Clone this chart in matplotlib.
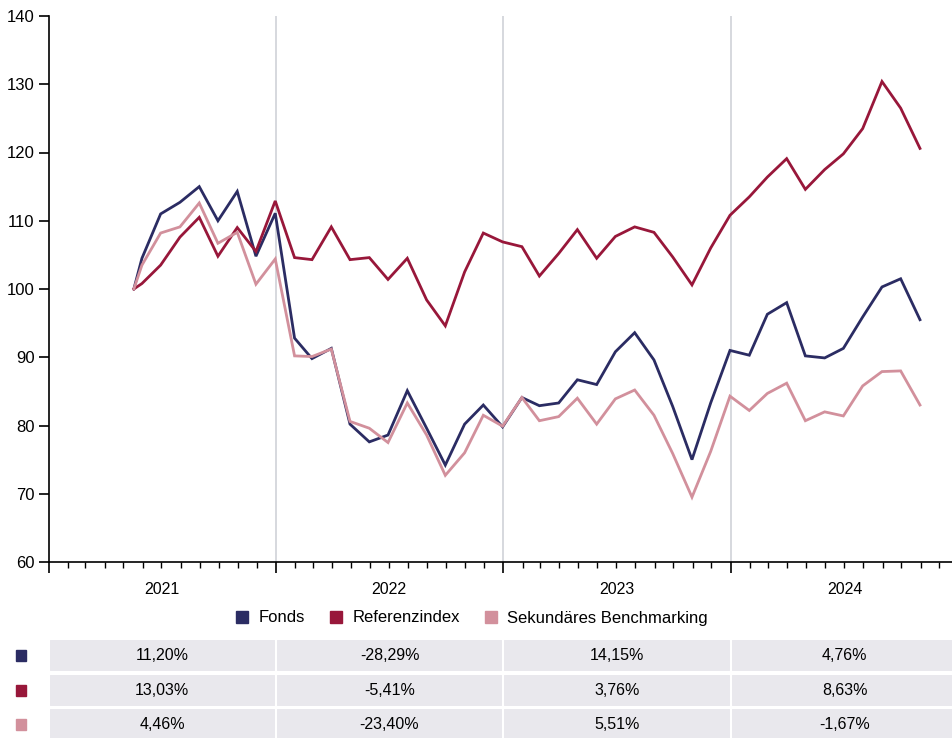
import pandas as pd
import matplotlib.pyplot as plt
import matplotlib.dates as mdates
from matplotlib.patches import Rectangle
from matplotlib.transforms import blended_transform_factory

plt.rcParams['font.family'] = ['Liberation Sans', 'DejaVu Sans']

# Data
start_date = pd.Timestamp('2021-05-18')
month_ends = pd.date_range('2021-05-31', '2024-10-31', freq='ME')
dates = [start_date] + list(month_ends)

fonds = [100, 104.5, 111.0, 112.7, 115.0, 110.0, 114.3, 104.8, 111.1,
         92.8, 89.8, 91.3, 80.2, 77.6, 78.6, 85.1, 79.6, 74.2, 80.2, 83.0, 79.8,
         84.1, 82.9, 83.3, 86.7, 86.0, 90.8, 93.6, 89.6, 82.8, 75.0, 83.3, 91.0,
         90.3, 96.3, 98.0, 90.2, 89.9, 91.3, 95.9, 100.3, 101.5, 95.5]
referenz = [100, 100.8, 103.5, 107.6, 110.5, 104.8, 109.0, 105.5, 112.9,
            104.6, 104.3, 109.1, 104.3, 104.6, 101.4, 104.5, 98.4, 94.6, 102.5, 108.2, 106.9,
            106.2, 101.9, 105.2, 108.7, 104.5, 107.7, 109.1, 108.3, 104.7, 100.6, 106.0, 110.8,
            113.5, 116.4, 119.1, 114.6, 117.5, 119.8, 123.5, 130.4, 126.5, 120.6]
sekundaer = [100, 103.5, 108.2, 109.1, 112.6, 106.7, 108.3, 100.7, 104.4,
             90.2, 90.1, 91.2, 80.6, 79.6, 77.5, 83.3, 78.6, 72.7, 76.0, 81.5, 79.9,
             84.1, 80.7, 81.3, 84.0, 80.2, 83.9, 85.2, 81.5, 75.9, 69.5, 76.2, 84.3,
             82.2, 84.7, 86.2, 80.7, 82.0, 81.4, 85.8, 87.9, 88.0, 83.0]

years = [2021, 2022, 2023, 2024]
series_names = ['Fonds', 'Referenzindex', 'Sekundäres Benchmarking']
colors = ['#2b2c63', '#98173a', '#d2909c']
table_values = [
    ['11,20%', '-28,29%', '14,15%', '4,76%'],
    ['13,03%', '-5,41%', '3,76%', '8,63%'],
    ['4,46%', '-23,40%', '5,51%', '-1,67%'],
]

W, H = 952, 738
fig = plt.figure(figsize=(W / 100, H / 100), dpi=100)
ax = fig.add_axes([48.5 / W, (H - 562) / H, (958.6 - 48.5) / W, (562 - 16) / H])

for vals, name, c in zip([fonds, referenz, sekundaer], series_names, colors):
    ax.plot(dates, vals, color=c, lw=2.0, label=name, solid_joinstyle='miter', zorder=3)

x0 = mdates.date2num(pd.Timestamp('2021-01-01'))
x1 = mdates.date2num(pd.Timestamp('2025-01-01'))
ax.set_xlim(x0, x1)
ax.set_ylim(60, 140)

for y in years[1:]:
    ax.axvline(pd.Timestamp(f'{y}-01-01'), color='#d3d6db', lw=1.3, zorder=1)

ax.spines['top'].set_visible(False)
ax.spines['right'].set_visible(False)
ax.spines['left'].set_linewidth(1.2)
ax.spines['bottom'].set_linewidth(1.2)

ax.set_yticks(range(60, 141, 10))
ax.tick_params(axis='y', length=7, width=1.2, labelsize=12, pad=3)

ax.xaxis.set_major_locator(mdates.YearLocator())
ax.xaxis.set_minor_locator(mdates.MonthLocator())
ax.xaxis.set_major_formatter(plt.NullFormatter())
ax.tick_params(axis='x', which='major', length=8, width=1.2)
ax.tick_params(axis='x', which='minor', length=4, width=1.0)

trans = blended_transform_factory(ax.transData, ax.transAxes)
for y in years:
    mid = pd.Timestamp(f'{y}-07-02')
    ax.text(mid, -0.05, str(y), transform=trans, ha='center', va='center', fontsize=11.5)

# Legend
handles = [Rectangle((0, 0), 1, 1, color=c) for c in colors]
fig.legend(handles, series_names, loc='center', bbox_to_anchor=(472 / W, 1 - 618 / H),
           ncol=3, frameon=False, fontsize=12, handlelength=0.75, handleheight=0.75,
           handletextpad=0.6, columnspacing=1.5)

# Table
tax = fig.add_axes([48.5 / W, 0, (958.6 - 48.5) / W, 100 / H])
tax.set_xlim(x0, x1)
tax.set_ylim(0, 100)
tax.axis('off')
row_tops = [99, 64, 30]
row_h = 32.5
for r, row in enumerate(table_values):
    for i, y in enumerate(years):
        a = mdates.date2num(pd.Timestamp(f'{y}-01-01'))
        b = mdates.date2num(pd.Timestamp(f'{y + 1}-01-01'))
        tax.add_patch(Rectangle((a, row_tops[r] - row_h), b - a, row_h,
                                facecolor='#e9e8ed', edgecolor='white', lw=1.5))
        tax.text((a + b) / 2, row_tops[r] - row_h / 2, row[i], ha='center', va='center',
                 fontsize=11.5)
    fig.patches.append(Rectangle((16 / W, (row_tops[r] - row_h / 2 - 5.5) / H), 10 / W, 11 / H,
                                 transform=fig.transFigure, color=colors[r]))

fig.savefig('out.png', dpi=100)
